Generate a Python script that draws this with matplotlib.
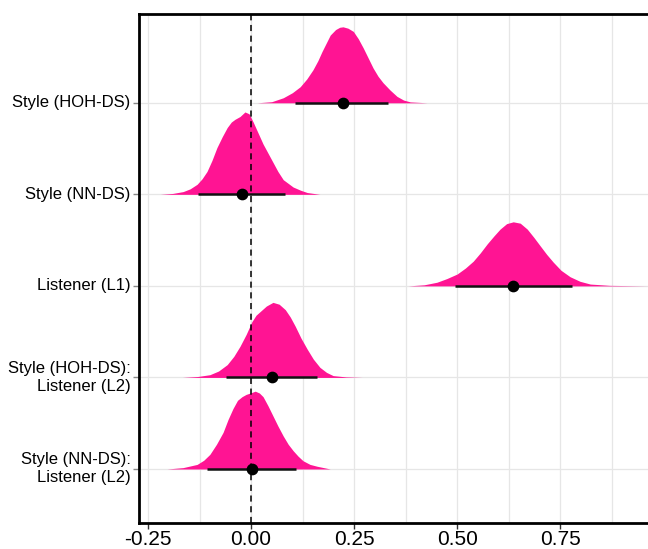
import numpy as np
import matplotlib.pyplot as plt

plt.rcParams['font.family'] = ['Liberation Sans', 'DejaVu Sans']

# 行标签（从上到下）
labels = ['Style (HOH-DS)', 'Style (NN-DS)', 'Listener (L1)',
          'Style (HOH-DS):\nListener (L2)', 'Style (NN-DS):\nListener (L2)']

# 点估计与区间
medians = [0.223, -0.022, 0.636, 0.051, 0.002]
lows = [0.107, -0.129, 0.495, -0.061, -0.107]
highs = [0.333, 0.083, 0.779, 0.160, 0.109]

# 密度轮廓（从图上读取：x 位置与高度）
dens_x = [
    [0.015, 0.050, 0.078, 0.100, 0.119, 0.135, 0.150, 0.162, 0.172, 0.182, 0.192, 0.205, 0.215, 0.223, 0.235,
     0.248, 0.260, 0.272, 0.284, 0.296, 0.308, 0.320, 0.337, 0.354, 0.370, 0.386, 0.427],
    [-0.221, -0.190, -0.165, -0.148, -0.131, -0.119, -0.107, -0.095, -0.083, -0.070, -0.058, -0.048, -0.039, -0.027,
     -0.015, -0.005, 0.005, 0.017, 0.029, 0.041, 0.053, 0.065, 0.078, 0.090, 0.102, 0.120, 0.136, 0.167],
    [0.381, 0.420, 0.451, 0.475, 0.500, 0.520, 0.539, 0.556, 0.573, 0.589, 0.604, 0.620, 0.636, 0.653, 0.670,
     0.686, 0.701, 0.717, 0.733, 0.752, 0.774, 0.798, 0.823, 0.870, 0.961],
    [-0.167, -0.130, -0.100, -0.079, -0.058, -0.042, -0.027, -0.012, 0.002, 0.012, 0.022, 0.037, 0.053, 0.068,
     0.083, 0.095, 0.107, 0.121, 0.136, 0.151, 0.167, 0.183, 0.199, 0.230, 0.270],
    [-0.204, -0.165, -0.131, -0.115, -0.100, -0.084, -0.068, -0.056, -0.044, -0.033, -0.022, -0.012, -0.002,
     0.010, 0.020, 0.029, 0.041, 0.053, 0.065, 0.078, 0.090, 0.102, 0.114, 0.126, 0.143, 0.160, 0.192],
]
dens_h = [
    [0.0, 0.012, 0.055, 0.110, 0.175, 0.260, 0.360, 0.460, 0.560, 0.650, 0.740, 0.800, 0.825, 0.830, 0.815,
     0.780, 0.700, 0.600, 0.490, 0.380, 0.290, 0.220, 0.140, 0.070, 0.030, 0.010, 0.0],
    [0.0, 0.010, 0.030, 0.060, 0.110, 0.170, 0.250, 0.370, 0.510, 0.630, 0.730, 0.790, 0.820, 0.850,
     0.900, 0.880, 0.790, 0.670, 0.550, 0.450, 0.350, 0.250, 0.160, 0.120, 0.080, 0.045, 0.020, 0.0],
    [0.0, 0.012, 0.040, 0.080, 0.130, 0.195, 0.270, 0.360, 0.460, 0.545, 0.620, 0.680, 0.700, 0.685, 0.620,
     0.530, 0.440, 0.345, 0.260, 0.170, 0.100, 0.050, 0.020, 0.006, 0.0],
    [0.0, 0.010, 0.030, 0.070, 0.140, 0.230, 0.340, 0.470, 0.610, 0.680, 0.720, 0.780, 0.820, 0.800,
     0.740, 0.660, 0.560, 0.430, 0.310, 0.200, 0.110, 0.055, 0.020, 0.006, 0.0],
    [0.0, 0.015, 0.050, 0.095, 0.160, 0.270, 0.400, 0.540, 0.660, 0.750, 0.790, 0.815, 0.830,
     0.850, 0.830, 0.790, 0.690, 0.580, 0.470, 0.360, 0.270, 0.200, 0.140, 0.090, 0.050, 0.030, 0.0],
]

pink = '#FF1493'

fig = plt.figure(figsize=(6.48, 5.49), dpi=100)
ax = fig.add_axes([139 / 648, 26 / 549, 1 - 139 / 648, 509 / 549])

n = len(labels)
ypos = np.arange(n, 0, -1)

for i in range(n):
    y0 = ypos[i]
    ax.fill_between(dens_x[i], y0, y0 + np.array(dens_h[i]), color=pink, lw=0, zorder=2)
    ax.plot([lows[i], highs[i]], [y0, y0], color='#111111', lw=1.8, zorder=3, solid_capstyle='butt')
    ax.scatter([medians[i]], [y0], s=55, color='black', zorder=4)

ax.axvline(0, color='black', lw=1.1, ls=(0, (4, 3)), zorder=5)

ax.set_xlim(-0.272, 0.963)
ax.set_ylim(0.41, 5.97)
ax.set_xticks([-0.25, 0.0, 0.25, 0.5, 0.75])
ax.set_xticklabels(['-0.25', '0.00', '0.25', '0.50', '0.75'], fontsize=15)
ax.set_xticks(np.arange(-0.125, 0.9, 0.25), minor=True)
ax.set_yticks(ypos)
ax.set_yticklabels(labels, fontsize=12, ha='right', va='center', linespacing=1.25)

ax.grid(True, which='both', axis='x', color='#E6E6E6', lw=0.9, zorder=0)
ax.grid(True, axis='y', color='#E6E6E6', lw=0.9, zorder=0)
ax.set_axisbelow(True)

ax.tick_params(axis='x', which='major', length=4, width=1, color='#333333', pad=1)
ax.tick_params(axis='x', which='minor', length=0)
ax.tick_params(axis='y', length=4, width=1, color='#888888', pad=2)

for s in ['left', 'bottom', 'top']:
    ax.spines[s].set_linewidth(2)
    ax.spines[s].set_color('black')
ax.spines['right'].set_visible(False)

fig.savefig('out.png', dpi=100)
